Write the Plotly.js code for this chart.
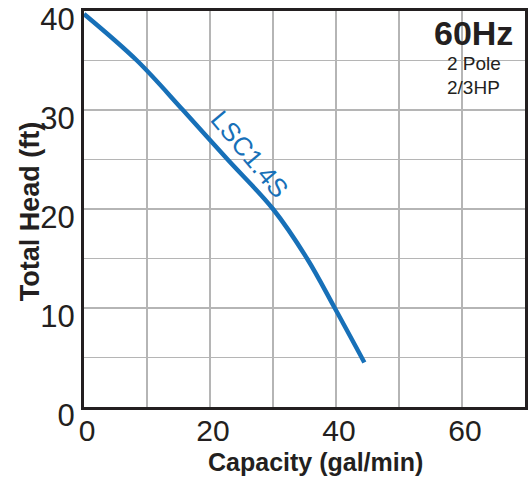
<!DOCTYPE html>
<html>
<head>
<meta charset="utf-8">
<script src="https://cdn.plot.ly/plotly-3.0.1.min.js"></script>
<style>
html,body{margin:0;padding:0;background:#fff;}
#chart{width:532px;height:477px;}
</style>
</head>
<body>
<div id="chart"></div>
<script>
// Pump curve data
const capacity = [0, 8.4, 15.7, 22.8, 30, 35.4, 39.8, 44.5];
const head = [39.7, 35, 30, 25, 20, 15, 10, 4.5];
const seriesName = "LSC1.4S";
const xTitle = "Capacity (gal/min)";
const yTitle = "Total Head (ft)";
const freqLabel = "60Hz";
const poleLabel = "2 Pole";
const hpLabel = "2/3HP";

const blue = "#1770b8";
const ink = "#231f20";
const grid = "#b5b5b5";
const font = "Liberation Sans, Arial, Helvetica, sans-serif";

const trace = {
  x: capacity,
  y: head,
  type: "scatter",
  mode: "lines",
  line: {color: blue, width: 4.5, shape: "spline", smoothing: 1},
  hoverinfo: "skip",
  showlegend: false
};

const layout = {
  width: 532,
  height: 477,
  margin: {l: 84, r: 7, t: 11, b: 70},
  paper_bgcolor: "#ffffff",
  plot_bgcolor: "#ffffff",
  font: {family: font, color: ink},
  showlegend: false,
  xaxis: {
    range: [0, 70],
    tick0: 0,
    dtick: 20,
    showgrid: true,
    gridcolor: grid,
    gridwidth: 1.3,
    minor: {dtick: 10, showgrid: true, gridcolor: grid, gridwidth: 1.3},
    showline: true,
    mirror: true,
    linecolor: ink,
    linewidth: 3,
    zeroline: false,
    ticks: "",
    tickfont: {size: 30, color: ink, family: font},
    ticklabelshift: 3,
    ticklabelstandoff: -5,
    fixedrange: true
  },
  yaxis: {
    range: [0, 40],
    tick0: 0,
    dtick: 10,
    showgrid: true,
    gridcolor: grid,
    gridwidth: 1.3,
    minor: {dtick: 5, showgrid: true, gridcolor: grid, gridwidth: 1.3},
    showline: true,
    mirror: true,
    linecolor: ink,
    linewidth: 3,
    zeroline: false,
    ticks: "",
    tickfont: {size: 31, color: ink, family: font},
    ticklabelshift: 8,
    ticklabeloverflow: "allow",
    fixedrange: true
  },
  shapes: [
    {type: "rect", xref: "paper", yref: "paper", x0: 0.778, x1: 0.991, y0: 0.783, y1: 0.995,
     fillcolor: "#ffffff", line: {width: 0}, layer: "between"}
  ],
  annotations: [
    {text: seriesName, x: 26.3, y: 25.6, xref: "x", yref: "y", showarrow: false,
     textangle: 50, font: {size: 26, color: blue, family: font}, xanchor: "center", yanchor: "middle"},
    {text: freqLabel, x: 0.884, y: 0.944, xref: "paper", yref: "paper", showarrow: false,
     font: {size: 34, color: ink, family: font, weight: "bold"}, xanchor: "center", yanchor: "middle"},
    {text: poleLabel, x: 0.884, y: 0.868, xref: "paper", yref: "paper", showarrow: false,
     font: {size: 19, color: ink, family: font}, xanchor: "center", yanchor: "middle"},
    {text: hpLabel, x: 0.884, y: 0.808, xref: "paper", yref: "paper", showarrow: false,
     font: {size: 19, color: ink, family: font}, xanchor: "center", yanchor: "middle"},
    {text: xTitle, x: 0.526, y: -0.14, xref: "paper", yref: "paper", showarrow: false,
     font: {size: 25, color: ink, family: font, weight: "bold"}, xanchor: "center", yanchor: "middle"},
    {text: yTitle, x: -0.1224, y: 0.492, xref: "paper", yref: "paper", showarrow: false, textangle: -90,
     font: {size: 27, color: ink, family: font, weight: "bold"}, xanchor: "center", yanchor: "middle"}
  ]
};

Plotly.newPlot("chart", [trace], layout, {staticPlot: true, displayModeBar: false});
</script>
</body>
</html>
